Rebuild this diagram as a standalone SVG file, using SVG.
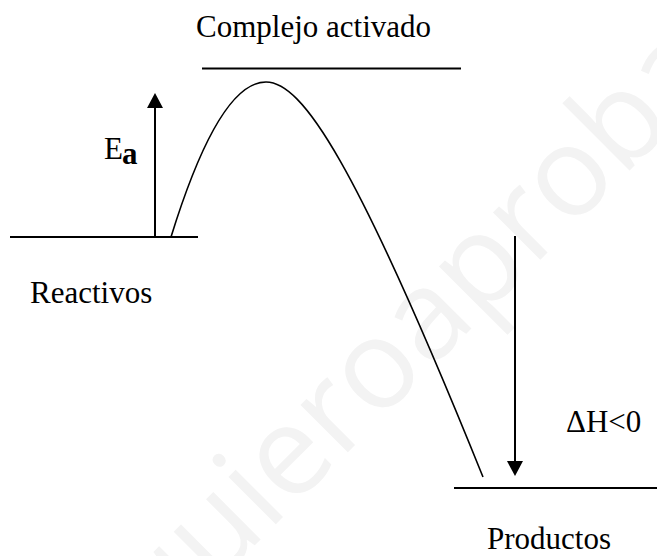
<svg xmlns="http://www.w3.org/2000/svg" width="657" height="556" viewBox="0 0 657 556">
  <style>
    .lbl { font-family: "Liberation Serif", "Times New Roman", serif; font-size: 31px; fill: #000; }
    .lvl { stroke: #000; stroke-width: 2; fill: none; }
    .arr { stroke: #000; stroke-width: 2; fill: none; }
    .wm { font-family: "Open Sans", "DejaVu Sans", sans-serif; font-size: 125px; fill: #f3f3f3; }
  </style>
  <defs>
    <marker id="head" viewBox="0 0 15 16" refX="0" refY="8" markerWidth="15" markerHeight="16" markerUnits="userSpaceOnUse" orient="auto">
      <path d="M0,0 L15,8 L0,16 z" fill="#000"/>
    </marker>
  </defs>
  <rect width="657" height="556" fill="#fff"/>
  <text class="wm" x="0" y="0" transform="translate(160,640) rotate(-45)">quieroaprobar</text>

  <g id="complejo">
    <line class="lvl" x1="202" y1="68.5" x2="461" y2="68.5"/>
    <text class="lbl" x="196" y="37">Complejo activado</text>
  </g>
  <g id="reactivos">
    <line class="lvl" x1="10" y1="237" x2="198" y2="237"/>
    <text class="lbl" x="30" y="303">Reactivos</text>
  </g>
  <g id="productos">
    <line class="lvl" x1="454" y1="488" x2="657" y2="488"/>
    <text class="lbl" x="487" y="549">Productos</text>
  </g>
  <g id="ea">
    <text class="lbl" x="104" y="159" font-size="28">E</text>
    <text class="lbl" x="122" y="164" font-size="19" font-weight="bold">a</text>
  </g>
  <g id="dh">
    <text class="lbl" x="566" y="432">ΔH&lt;0</text>
  </g>
  <g id="connectors">
    <path d="M171,237 Q219,82 266,82 C302,82 355,160 483,477" fill="none" stroke="#000" stroke-width="1.6"/>
    <line class="arr" x1="155" y1="237" x2="155" y2="108" marker-end="url(#head)"/>
    <line class="arr" x1="515" y1="236" x2="515" y2="461" marker-end="url(#head)"/>
  </g>
</svg>
